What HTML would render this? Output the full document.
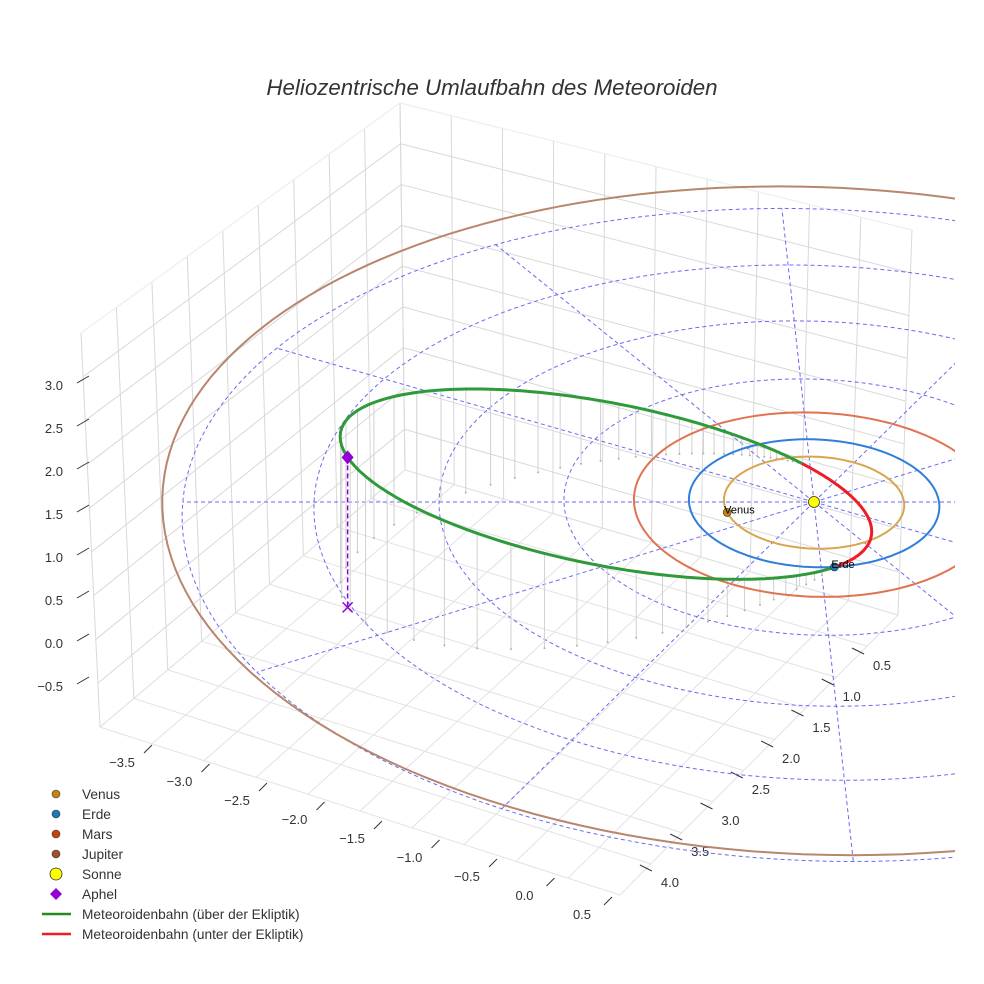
<!DOCTYPE html>
<html><head><meta charset="utf-8">
<style>
html,body{margin:0;padding:0;background:#fff;}
svg{display:block;font-family:"Liberation Sans",sans-serif;}
</style></head>
<body>
<svg id="chart" width="984" height="984" viewBox="0 0 984 984">
<defs><clipPath id="clipR"><rect x="0" y="0" width="955" height="984"/></clipPath></defs>
<rect width="984" height="984" fill="#fff"/>
<text x="492" y="95" text-anchor="middle" font-size="22.3" font-style="italic" fill="#333">Heliozentrische Umlaufbahn des Meteoroiden</text>
<g id="grid"></g>
<g id="axes"></g>
<g id="plot" clip-path="url(#clipR)"></g>
<g id="legend"></g>
</svg>
<script>
// ---- data ----
const planetNames = ["Venus","Erde","Mars","Jupiter"];
const orbitRadii = [0.72, 1.0, 1.44, 5.22];
const orbitCenterV = [0, 0, 0, -0.25];
const orbitColors = ["#d9a54e","#2f7fd8","#e07352","#b8866c"];
const markerColors = ["#c8820f","#1f77b4","#c8410f","#a0522d"];
const planetAngles = [167, 84];
const ringRadii = [1,2,3,4,5.05];
const spokeAngles = [0,30,60,90,120,150,180,210,240,270,300,330];
const meteorQ = 4.03, meteorQperi = 0.42, meteorPeriAngle = -23.3, meteorNodeAngle = 84, meteorIncl = 0.444;
const xTicks = ["−3.5","−3.0","−2.5","−2.0","−1.5","−1.0","−0.5","0.0","0.5"];
const yTicks = ["0.5","1.0","1.5","2.0","2.5","3.0","3.5","4.0"];
const zTicks = ["3.0","2.5","2.0","1.5","1.0","0.5","0.0","−0.5"];

const NS="http://www.w3.org/2000/svg";
function mk(tag,attrs,parent){const e=document.createElementNS(NS,tag);for(const k in attrs)e.setAttribute(k,attrs[k]);parent.appendChild(e);return e;}
function P(u,v,z){const d=1-0.02*v;return [814+(125*u+7*v)/d, 502+(64*v-85*z)/d];}
function lerp(a,b,t){return [a[0]+(b[0]-a[0])*t,a[1]+(b[1]-a[1])*t];}

// ---- grid box (decoration) ----
const G=document.getElementById('grid');
const LFt=[81,333],LFb=[100,727],Bt=[400,103],Bb=[405,470],Rt=[912,230],Rb=[898,615],Fb=[620,895];
function gl(a,b,c){const e=mk('line',{x1:a[0],y1:a[1],x2:b[0],y2:b[1],stroke:c||'#d8d8d8','stroke-width':1},G);

}
for(let i=0;i<=9;i++){const t=i/9;gl(lerp(LFb,Bb,t),lerp(LFt,Bt,t));}
for(let i=0;i<=10;i++){const t=i/10;gl(lerp(Bb,Rb,t),lerp(Bt,Rt,t));}
const zl=9;
for(let i=0;i<=zl;i++){const t=i/zl;const a=lerp(LFt,LFb,t),b=lerp(Bt,Bb,t),c=lerp(Rt,Rb,t);gl(a,b);gl(b,c);}
for(let i=0;i<=9;i++){const t=i/9;gl(lerp(LFb,Bb,t),lerp(Fb,Rb,t),'#e2e2e2');}
for(let i=0;i<=10;i++){const t=i/10;gl(lerp(LFb,Fb,t),lerp(Bb,Rb,t),'#e2e2e2');}
gl(Bt,Rt,'#f0f0f0');gl(LFt,Bt,'#f0f0f0');

// ---- axis ticks ----
const A=document.getElementById('axes');
zTicks.forEach((s,i)=>{const y=383+i*43;
const t=mk('line',{x1:77,y1:y,x2:89,y2:y-7,stroke:'#333','stroke-width':1},A);


const tx=mk('text',{x:63,y:y+7,'text-anchor':'end','font-size':13,fill:'#333'},A);tx.textContent=s;

});
xTicks.forEach((s,i)=>{const x=122+i*57.5,y=767+i*19;
const tx=mk('text',{x:x,y:y,'text-anchor':'middle','font-size':13,fill:'#333'},A);tx.textContent=s;


const t=mk('line',{x1:x+22,y1:y-14,x2:x+30,y2:y-22,stroke:'#333','stroke-width':1},A);

});
yTicks.forEach((s,i)=>{const x=882-i*30.3,y=670+i*31;
const tx=mk('text',{x:x,y:y,'text-anchor':'middle','font-size':13,fill:'#333'},A);tx.textContent=s;


const t=mk('line',{x1:x-18,y1:y-16,x2:x-30,y2:y-22,stroke:'#333','stroke-width':1},A);

});

// ---- plot ----
const Pl=document.getElementById('plot');
function pathFrom(pts){return pts.map((p,i)=>(i?'L':'M')+p[0].toFixed(1)+' '+p[1].toFixed(1)).join(' ');}
function circlePts(R,cv){const pts=[];for(let a=0;a<=360;a+=2){const r=a*Math.PI/180;pts.push(P(R*Math.cos(r),cv+R*Math.sin(r),0));}return pts;}
ringRadii.forEach(R=>{const e=mk('path',{d:pathFrom(circlePts(R,0)),fill:'none',stroke:'#6a6af0','stroke-width':1,'stroke-dasharray':'4,3'},Pl);

});
spokeAngles.forEach(a=>{const r=a*Math.PI/180;const R=ringRadii[ringRadii.length-1];const p1=P(0,0,0),p2=P(R*Math.cos(r),R*Math.sin(r),0);
const e=mk('line',{x1:p1[0],y1:p1[1],x2:p2[0],y2:p2[1],stroke:'#6a6af0','stroke-width':1,'stroke-dasharray':'4,3'},Pl);

});

// meteoroid orbit
const e=(meteorQ-meteorQperi)/(meteorQ+meteorQperi), p=meteorQperi*(1+e);
function met(thDeg){const th=thDeg*Math.PI/180;const r=p/(1+e*Math.cos(th-meteorPeriAngle*Math.PI/180));
const u=r*Math.cos(th),v=r*Math.sin(th),z=meteorIncl*r*Math.sin(th-meteorNodeAngle*Math.PI/180);return [u,v,z];}
const greenPts=[],redPts=[];
for(let t=meteorNodeAngle;t<=meteorNodeAngle+180;t+=1){const m=met(t);greenPts.push(P(m[0],m[1],m[2]));}
for(let t=meteorNodeAngle+180;t<=meteorNodeAngle+360;t+=1){const m=met(t);redPts.push(P(m[0],m[1],m[2]));}
// drop lines
for(let t=meteorNodeAngle+6;t<meteorNodeAngle+180;t+=3){const m=met(t);const a=P(m[0],m[1],m[2]),b=P(m[0],m[1],0);
const l=mk('line',{x1:a[0],y1:a[1],x2:b[0],y2:b[1],stroke:'#d0d0d0','stroke-width':1},Pl);


const d=mk('circle',{cx:b[0],cy:b[1],r:1,fill:'#b0b0b0'},Pl);

}

planetNames.forEach((n,i)=>{const o=mk('path',{d:pathFrom(circlePts(orbitRadii[i],orbitCenterV[i])),fill:'none',stroke:orbitColors[i],'stroke-width':2},Pl);

});

const g1=mk('path',{d:pathFrom(greenPts),fill:'none',stroke:'#2e9a3a','stroke-width':3},Pl);


const r1=mk('path',{d:pathFrom(redPts),fill:'none',stroke:'#ee1c25','stroke-width':3},Pl);



// aphelion
const aph=met(meteorPeriAngle+180);const ap=P(aph[0],aph[1],aph[2]),ag=P(aph[0],aph[1],0);
const al=mk('line',{x1:ap[0],y1:ap[1],x2:ag[0],y2:ag[1],stroke:'#9400d3','stroke-width':1.5,'stroke-dasharray':'5,3'},Pl);


const ad=mk('path',{d:`M${ap[0]} ${ap[1]-7}L${ap[0]+6} ${ap[1]}L${ap[0]} ${ap[1]+7}L${ap[0]-6} ${ap[1]}Z`,fill:'#9400d3'},Pl);


const ax=mk('path',{d:`M${ag[0]-5} ${ag[1]-5}L${ag[0]+5} ${ag[1]+5}M${ag[0]+5} ${ag[1]-5}L${ag[0]-5} ${ag[1]+5}`,stroke:'#9400d3','stroke-width':1.5},Pl);



// planets
planetAngles.forEach((a,i)=>{const r=a*Math.PI/180;const q=P(orbitRadii[i]*Math.cos(r),orbitRadii[i]*Math.sin(r),0);
const c=mk('circle',{cx:q[0],cy:q[1],r:4,fill:markerColors[i],stroke:'#333','stroke-width':0.6},Pl);


const t=mk('text',{x:q[0]-3,y:q[1]+1,'font-size':11,fill:'#000'},Pl);t.textContent=planetNames[i];

});
const s0=P(0,0,0);
const sun=mk('circle',{cx:s0[0],cy:s0[1],r:5.5,fill:'#ffff00',stroke:'#333','stroke-width':0.8},Pl);



// ---- legend ----
const L=document.getElementById('legend');
const legItems=[["Venus","c","#c8820f"],["Erde","c","#1f77b4"],["Mars","c","#c8410f"],["Jupiter","c","#a0522d"],["Sonne","s","#ffff00"],["Aphel","d","#9400d3"],["Meteoroidenbahn (über der Ekliptik)","l","#228b22"],["Meteoroidenbahn (unter der Ekliptik)","l","#ee1c25"]];
legItems.forEach((it,i)=>{const y=794+i*20;let m;
if(it[1]==='c')m=mk('circle',{cx:56,cy:y,r:4,fill:it[2],stroke:'#333','stroke-width':0.6},L);
else if(it[1]==='s')m=mk('circle',{cx:56,cy:y,r:6,fill:it[2],stroke:'#333','stroke-width':0.8},L);
else if(it[1]==='d')m=mk('path',{d:`M56 ${y-6}L62 ${y}L56 ${y+6}L50 ${y}Z`,fill:it[2]},L);
else m=mk('line',{x1:42,y1:y,x2:71,y2:y,stroke:it[2],'stroke-width':2.5},L);


const t=mk('text',{x:82,y:y+5,'font-size':13.7,fill:'#333'},L);t.textContent=it[0];

});
</script>
</body></html>
